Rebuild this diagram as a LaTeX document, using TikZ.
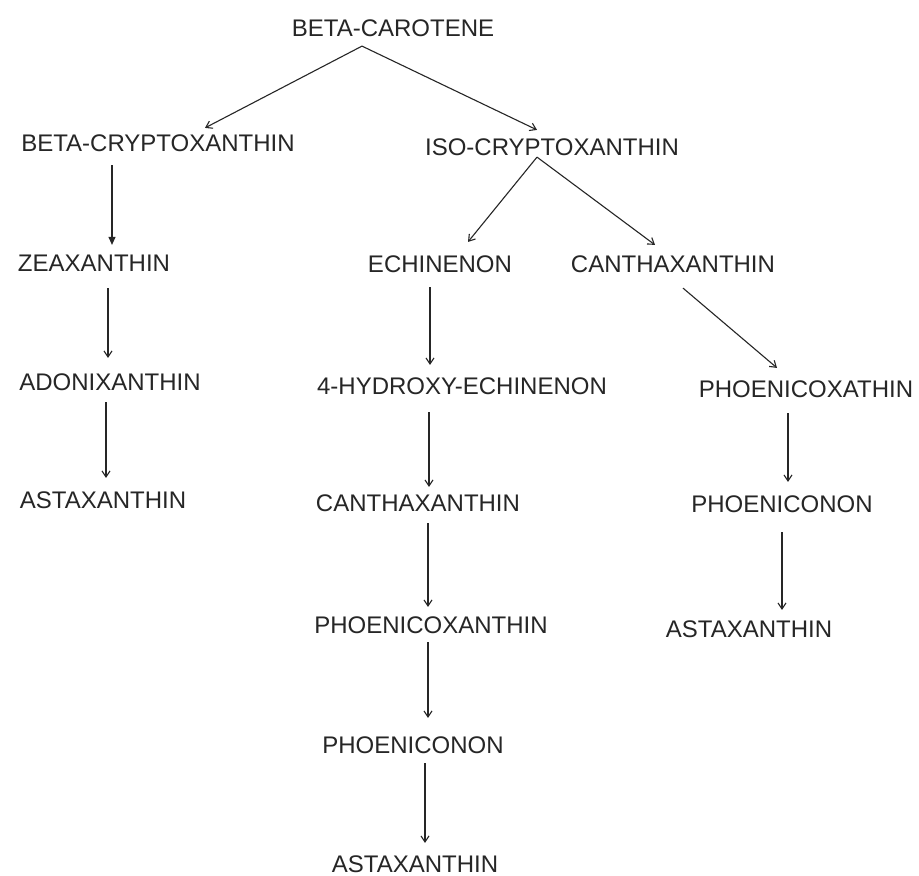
\documentclass[tikz,border=0pt]{standalone}
\usepackage{fontspec}
\setmainfont{Liberation Sans}
\usetikzlibrary{arrows.meta}
\definecolor{ink}{HTML}{262626}
\begin{document}
\begin{tikzpicture}[x=1pt,y=-1pt,
  lbl/.style={inner sep=0pt,outer sep=0pt,text=ink,font=\fontsize{24}{28}\selectfont,text height=17.2pt,text depth=0pt,anchor=center},
  arr/.style={draw=ink,line width=1.1pt,-{Straight Barb[length=6pt,width=8pt,line width=1.1pt]}},
  arrf/.style={draw=ink,line width=1.1pt,-{Triangle[length=8pt,width=7pt]}}]
\useasboundingbox[fill=white] (0,0) rectangle (919,876);
\node[lbl] (bc)   at (393,28)  {BETA-CAROTENE};
\node[lbl] (bcry) at (158,143) {BETA-CRYPTOXANTHIN};
\node[lbl] (iso)  at (552,147) {ISO-CRYPTOXANTHIN};
\node[lbl] (zea)  at (94,263)  {ZEAXANTHIN};
\node[lbl] (ado)  at (110,382) {ADONIXANTHIN};
\node[lbl] (astL) at (103,500) {ASTAXANTHIN};
\node[lbl] (ech)  at (440,264) {ECHINENON};
\node[lbl] (canA) at (673,264) {CANTHAXANTHIN};
\node[lbl] (hyd)  at (462,386) {4-HYDROXY-ECHINENON};
\node[lbl] (pxa)  at (806,389) {PHOENICOXATHIN};
\node[lbl] (canB) at (418,503) {CANTHAXANTHIN};
\node[lbl] (pnnA) at (782,504) {PHOENICONON};
\node[lbl] (pcx)  at (431,625) {PHOENICOXANTHIN};
\node[lbl] (astR) at (749,629) {ASTAXANTHIN};
\node[lbl] (pnnB) at (413,745) {PHOENICONON};
\node[lbl] (astB) at (415,864) {ASTAXANTHIN};
% connectors
\draw[arr]  ([shift={(-31,9.5)}]bc.south)   -- ([shift={(47,-6.5)}]bcry.north);
\draw[arr]  ([shift={(-31,9.5)}]bc.south)   -- ([shift={(-15,-8.5)}]iso.north);
\draw[arrf] ([shift={(-46,13.5)}]bcry.south) -- ([shift={(18,-9.5)}]zea.north);
\draw[arr]  ([shift={(14,16.5)}]zea.south)  -- ([shift={(-2,-15.5)}]ado.north);
\draw[arr]  ([shift={(-4,11.5)}]ado.south)  -- ([shift={(3,-13.5)}]astL.north);
\draw[arr]  ([shift={(-15,1.5)}]iso.south)  -- ([shift={(28,-13.5)}]ech.north);
\draw[arr]  ([shift={(-15,1.5)}]iso.south)  -- ([shift={(-18,-10.5)}]canA.north);
\draw[arr]  ([shift={(-10,14.5)}]ech.south) -- ([shift={(-32,-12.5)}]hyd.north);
\draw[arr]  ([shift={(10,15.5)}]canA.south) -- ([shift={(-29,-12.5)}]pxa.north);
\draw[arr]  ([shift={(-33,17.5)}]hyd.south) -- ([shift={(11,-7.5)}]canB.north);
\draw[arr]  ([shift={(-18,15.5)}]pxa.south) -- ([shift={(6,-13.5)}]pnnA.north);
\draw[arr]  ([shift={(0,19.5)}]pnnA.south)  -- ([shift={(33,-10.5)}]astR.north);
\draw[arr]  ([shift={(10,11.5)}]canB.south) -- ([shift={(-3,-9.5)}]pcx.north);
\draw[arr]  ([shift={(-3,8.5)}]pcx.south)   -- ([shift={(15,-18.5)}]pnnB.north);
\draw[arr]  ([shift={(12,9.5)}]pnnB.south)  -- ([shift={(10,-12.5)}]astB.north);
\end{tikzpicture}
\end{document}
